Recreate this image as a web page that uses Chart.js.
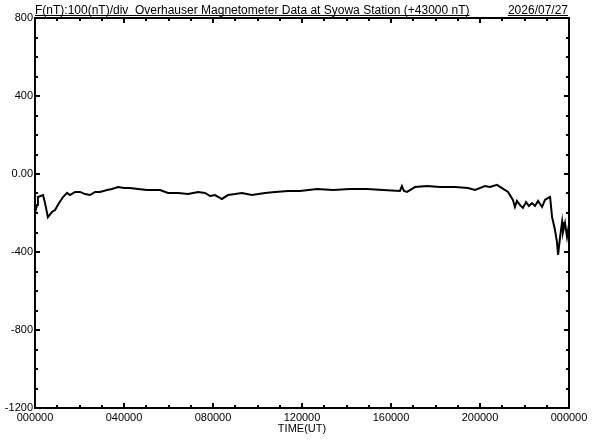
<!DOCTYPE html>
<html>
<head>
<meta charset="utf-8">
<script src="https://cdn.jsdelivr.net/npm/chart.js@4/dist/chart.umd.min.js"></script>
<style>
  html, body { margin: 0; padding: 0; background: #fff; }
  canvas { display: block; }
</style>
</head>
<body>
<canvas id="mag" width="592" height="440"></canvas>
<script>
  // time of day in hours (UT) and F minus 43000 nT
  var hours = [
    0.00, 0.09, 0.13, 0.36, 0.45, 0.58, 0.76, 0.90, 1.08, 1.26, 1.44, 1.57, 1.80, 2.02, 2.25, 2.47,
    2.70, 2.92, 3.24, 3.46, 3.73, 4.00, 4.27, 4.63, 5.03, 5.39, 5.62, 5.98, 6.43, 6.88, 7.33, 7.64,
    7.87, 8.09, 8.40, 8.67, 8.99, 9.30, 9.75, 10.34, 10.79, 11.37, 11.91, 12.67, 13.39, 14.16, 14.92,
    15.64, 16.40, 16.49, 16.58, 16.72, 17.08, 17.62, 18.20, 18.88, 19.46, 19.78, 20.22, 20.45, 20.76,
    20.99, 21.26, 21.48, 21.57, 21.66, 21.80, 21.93, 22.07, 22.20, 22.34, 22.47, 22.61, 22.79, 22.92,
    23.06, 23.15, 23.24, 23.37, 23.46, 23.51, 23.60, 23.69, 23.73, 23.82, 23.91, 23.96, 24.00
  ];
  var fieldNT = [
    -200, -159, -118, -108, -149, -221, -195, -185, -149, -118, -97, -108, -92, -92, -103, -108,
    -92, -92, -82, -77, -67, -72, -72, -77, -82, -82, -82, -97, -97, -103, -92, -97,
    -113, -108, -128, -108, -103, -97, -108, -97, -92, -87, -87, -77, -82, -77, -77,
    -82, -87, -62, -87, -92, -67, -62, -67, -67, -72, -82, -62, -67, -56,
    -72, -92, -133, -169, -138, -159, -174, -144, -164, -149, -164, -138, -169, -133,
    -123, -118, -221, -287, -349, -415, -323, -246, -297, -251, -323, -287, -323
  ];
  var xTicks = [0, 4, 8, 12, 16, 20, 24];
  var yTicks = [800, 400, 0, -400, -800, -1200];
  var titleText = 'F(nT):100(nT)/div  Overhauser Magnetometer Data at Syowa Station (+43000 nT)';
  var dateText = '2026/07/27';

  function hhmmss(h) {
    var hh = h % 24;
    return (hh < 10 ? '0' : '') + hh + '0000';
  }

  // frame, inward ticks and header texts
  var framePlugin = {
    id: 'frame',
    afterDraw: function (chart) {
      var ctx = chart.ctx, a = chart.chartArea;
      var xs = chart.scales.x, ys = chart.scales.y;
      ctx.save();
      ctx.strokeStyle = '#000';
      ctx.lineWidth = 2;
      ctx.strokeRect(a.left, a.top, a.right - a.left, a.bottom - a.top);
      ctx.beginPath();
      for (var h = 0; h <= 24; h++) {
        var px = Math.round(xs.getPixelForValue(h));
        var len = h % 4 === 0 ? 5 : 3;
        ctx.moveTo(px, a.bottom); ctx.lineTo(px, a.bottom - len);
        ctx.moveTo(px, a.top); ctx.lineTo(px, a.top + len);
      }
      for (var v = -1200; v <= 800; v += 100) {
        var py = Math.round(ys.getPixelForValue(v));
        var l2 = v % 400 === 0 ? 5 : 3;
        ctx.moveTo(a.left, py); ctx.lineTo(a.left + l2, py);
        ctx.moveTo(a.right, py); ctx.lineTo(a.right - l2, py);
      }
      ctx.stroke();

      ctx.fillStyle = '#000';
      ctx.font = '12px "Liberation Sans", Arial, sans-serif';
      ctx.textBaseline = 'alphabetic';
      ctx.textAlign = 'left';
      ctx.fillText(titleText, a.left, 14);
      var w1 = ctx.measureText(titleText).width;
      ctx.textAlign = 'right';
      ctx.fillText(dateText, a.right - 1, 14);
      var w2 = ctx.measureText(dateText).width;
      ctx.lineWidth = 1;
      ctx.beginPath();
      ctx.moveTo(a.left, 15.5); ctx.lineTo(a.left + w1, 15.5);
      ctx.moveTo(a.right - 1 - w2, 15.5); ctx.lineTo(a.right - 1, 15.5);
      ctx.stroke();
      ctx.restore();
    }
  };

  new Chart(document.getElementById('mag').getContext('2d'), {
    type: 'line',
    data: {
      datasets: [{
        data: hours.map(function (h, i) { return { x: h, y: fieldNT[i] }; }),
        borderColor: '#000',
        borderWidth: 2,
        pointRadius: 0,
        tension: 0,
        fill: false
      }]
    },
    options: {
      responsive: false,
      animation: false,
      devicePixelRatio: 1,
      layout: { padding: { top: 18, right: 23, left: 0, bottom: 0 } },
      plugins: { legend: { display: false }, tooltip: { enabled: false } },
      scales: {
        x: {
          type: 'linear', min: 0, max: 24,
          afterBuildTicks: function (s) { s.ticks = xTicks.map(function (v) { return { value: v }; }); },
          afterFit: function (s) { s.height = 32; },
          grid: { display: false, drawTicks: false },
          border: { display: false },
          ticks: {
            autoSkip: false, maxRotation: 0, padding: 3, color: '#000',
            font: { family: '"Liberation Sans", Arial, sans-serif', size: 11 },
            callback: function (v) { return hhmmss(v); }
          },
          title: {
            display: true, text: 'TIME(UT)', color: '#000',
            font: { family: '"Liberation Sans", Arial, sans-serif', size: 11 },
            padding: { top: 0, bottom: 4 }
          }
        },
        y: {
          min: -1200, max: 800,
          afterBuildTicks: function (s) { s.ticks = yTicks.map(function (v) { return { value: v }; }); },
          afterFit: function (s) { s.width = 35; },
          grid: { display: false, drawTicks: false },
          border: { display: false },
          ticks: {
            padding: 2, color: '#000',
            font: { family: '"Liberation Sans", Arial, sans-serif', size: 11 },
            callback: function (v) { return v === 0 ? '0.00' : String(v); }
          }
        }
      }
    },
    plugins: [framePlugin]
  });
</script>
</body>
</html>
